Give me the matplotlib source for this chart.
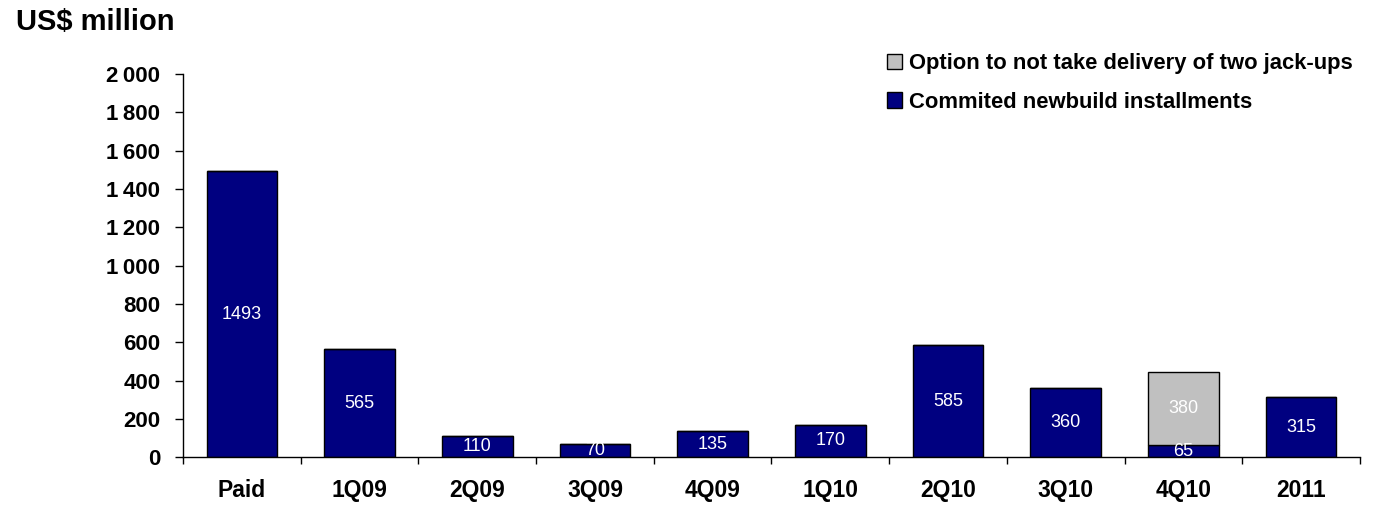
import matplotlib
matplotlib.use("Agg")
import matplotlib.pyplot as plt
from matplotlib.patches import Patch
from matplotlib.ticker import FixedLocator, FuncFormatter

plt.rcParams['font.family'] = ['Liberation Sans', 'DejaVu Sans']

categories = ["Paid", "1Q09", "2Q09", "3Q09", "4Q09", "1Q10", "2Q10", "3Q10", "4Q10", "2011"]
committed = [1493, 565, 110, 70, 135, 170, 585, 360, 65, 315]
option = [0, 0, 0, 0, 0, 0, 0, 0, 380, 0]

navy = "#000080"
grey = "#C0C0C0"

fig = plt.figure(figsize=(13.97, 5.05), dpi=100)
ax = fig.add_axes([0.131, 0.0945, 0.8425, 0.759])

x = list(range(len(categories)))
ax.bar(x, committed, width=0.6, color=navy, edgecolor="black", linewidth=1.0)
ax.bar(x, option, width=0.6, bottom=committed, color=grey, edgecolor="black", linewidth=1.0)

for xi, v in zip(x, committed):
    ax.text(xi, v / 2, str(v), ha="center", va="center", color="white", fontsize=13)
for xi, v, base in zip(x, option, committed):
    if v:
        ax.text(xi, base + v / 2, str(v), ha="center", va="center", color="white", fontsize=13)

ax.set_xlim(-0.5, len(categories) - 0.5)
ax.set_ylim(0, 2000)

ax.spines["top"].set_visible(False)
ax.spines["right"].set_visible(False)
for s in ("left", "bottom"):
    ax.spines[s].set_linewidth(1.0)

ax.set_yticks(range(0, 2001, 200))
ax.yaxis.set_major_formatter(FuncFormatter(lambda v, p: f"{int(v):,}".replace(",", "\u2009")))
ax.tick_params(axis="y", direction="out", length=5.8, width=1.0, labelsize=16, pad=10.5)

ax.set_xticks(x)
ax.set_xticklabels(categories)
ax.xaxis.set_minor_locator(FixedLocator([i - 0.5 for i in range(len(categories) + 1)]))
ax.tick_params(axis="x", which="major", length=0, labelsize=16.5, pad=16)
ax.tick_params(axis="x", which="minor", direction="out", length=5, width=1.0)
for lbl in ax.get_xticklabels() + ax.get_yticklabels():
    lbl.set_fontweight("bold")

fig.text(16 / 1397, 1 - 22 / 505, "US$ million", fontsize=21, fontweight="bold",
         va="center", ha="left")

handles = [
    Patch(facecolor=grey, edgecolor="black", linewidth=1.0, label="Option to not take delivery of two jack-ups"),
    Patch(facecolor=navy, edgecolor="black", linewidth=1.0, label="Commited newbuild installments"),
]
fig.legend(handles=handles, loc="upper left", bbox_to_anchor=(887 / 1397, 1 - 53 / 505),
           frameon=False, handlelength=0.7, handleheight=0.7, handletextpad=0.3,
           labelspacing=0.8, borderpad=0, borderaxespad=0,
           prop={"weight": "bold", "size": 15.8})

fig.savefig("out.png", dpi=100)
